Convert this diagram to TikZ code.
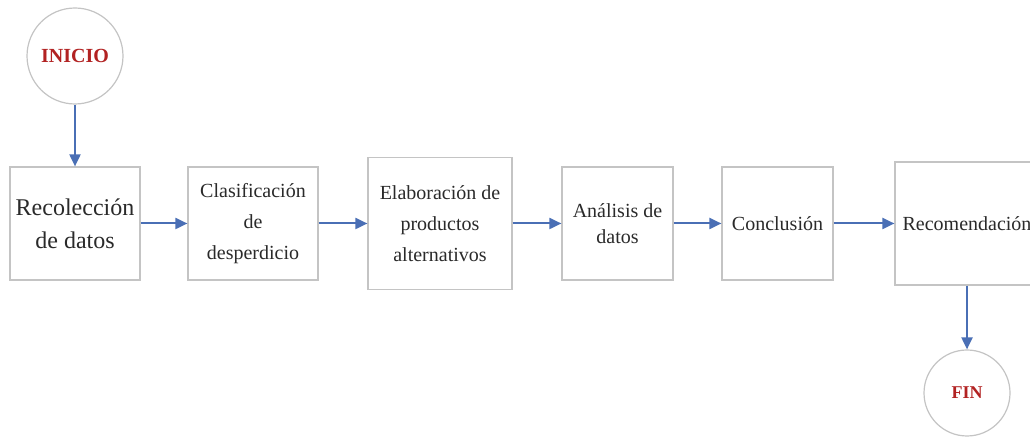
\documentclass[tikz,border=0pt]{standalone}
\usepackage{fontspec}
\setmainfont{Liberation Serif}
\usetikzlibrary{arrows.meta}
\definecolor{flowblue}{HTML}{4A6FB5}
\definecolor{boxgray}{HTML}{C4C4C4}
\definecolor{txtgray}{HTML}{2A2A2A}
\definecolor{startred}{HTML}{B22222}
\tikzset{
  procbox/.style={draw=boxgray, line width=1.2pt, fill=white, text=txtgray,
    align=center, inner sep=0pt, font=\fontsize{20}{31}\selectfont},
  termcirc/.style={circle, draw=boxgray, line width=1.2pt, fill=white,
    text=startred, inner sep=0pt, font=\bfseries},
  flow/.style={draw=flowblue, line width=2pt, -{Triangle[length=12pt,width=11pt]}}
}
\begin{document}
\begin{tikzpicture}[x=1pt,y=1pt]
\useasboundingbox (0,0) rectangle (1030,438);
\node[termcirc, minimum size=96pt, font=\bfseries\fontsize{20}{24}\selectfont] (ini) at (75,382) {INICIO};
\node[procbox, minimum width=130pt, minimum height=113pt, font=\fontsize{24}{33}\selectfont] (b1) at (75,214.5) {Recolección\\de datos};
\node[procbox, minimum width=130pt, minimum height=113pt] (b2) at (253,214.5) {Clasificación\\de\\desperdicio};
\node[procbox, minimum width=144pt, minimum height=132pt] (b3) at (440,214.5) {Elaboración de\\productos\\alternativos};
\node[procbox, minimum width=111pt, minimum height=113pt, font=\fontsize{20}{26}\selectfont] (b4) at (617.5,214.5) {Análisis de\\datos};
\node[procbox, minimum width=111pt, minimum height=113pt] (b5) at (777.5,214.5) {Conclusión};
\node[procbox, minimum width=144pt, minimum height=123pt] (b6) at (967,214.5) {Recomendación};
\node[termcirc, minimum size=86pt, font=\bfseries\fontsize{18}{22}\selectfont] (fin) at (967,45) {FIN};
\draw[flow] (ini.south) -- (b1.north);
\draw[flow] (b1.east) -- (b2.west);
\draw[flow] (b2.east) -- (b3.west);
\draw[flow] (b3.east) -- (b4.west);
\draw[flow] (b4.east) -- (b5.west);
\draw[flow] (b5.east) -- (b6.west);
\draw[flow] (b6.south) -- (fin.north);
\end{tikzpicture}
\end{document}
